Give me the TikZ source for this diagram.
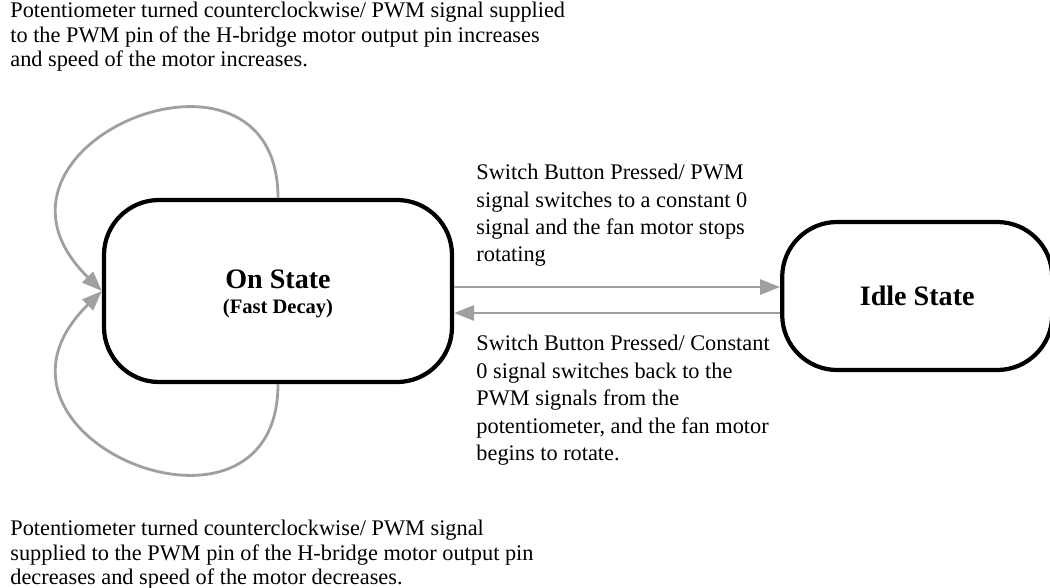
\documentclass[tikz,border=0pt]{standalone}
\usepackage{fontspec}
\setmainfont{Liberation Serif}
\usetikzlibrary{positioning, arrows.meta}
\definecolor{edgegray}{RGB}{160,160,160}

\begin{document}
\begin{tikzpicture}[
    state/.style={draw, line width=2.4pt, rounded corners=1.1cm, align=center,
        font=\bfseries\fontsize{16}{14}\selectfont},
    trans/.style={draw=edgegray, line width=1.6pt, -{Triangle[length=0.4cm,width=0.3cm]}},
    note/.style={inner sep=0pt, align=left, anchor=north west,
        font=\fontsize{12.7}{13.9}\selectfont},
    translabel/.style={inner sep=0pt, align=left, font=\fontsize{12.7}{15.6}\selectfont}
]
\useasboundingbox (0,0) rectangle (21,-11.74);

% states
\node[state, minimum width=6.96cm, minimum height=3.64cm](on) at (5.56,-5.82)
    {\rule{0pt}{14pt}On State\\{\fontsize{11.7}{14}\selectfont (Fast Decay)}};
\node[state, minimum width=5.4cm, minimum height=2.96cm](idle)[right = 6.52cm of on, yshift=-0.1cm]{Idle State};

% transitions between the states
\draw[trans] ([yshift=0.08cm]on.east) -- ([yshift=0.08cm]on.east -| idle.west);
\draw[trans] ([yshift=-0.44cm]on.east -| idle.west) -- ([yshift=-0.44cm]on.east);

\node[translabel](offlabel)[above right = 0.48cm and 0.44cm of on.east]
    {Switch Button Pressed/ PWM\\ signal switches to a constant 0\\ signal and the fan motor stops\\ rotating};
\node[translabel](onlabel)[below right = 0.88cm and 0.44cm of on.east]
    {Switch Button Pressed/ Constant\\ 0 signal switches back to the\\ PWM signals from the\\ potentiometer, and the fan motor\\ begins to rotate.};

% self loops
\draw[trans] (on.north) .. controls +(0,3.7) and +(-2.98,2.92) .. (on.west);
\draw[trans] (on.south) .. controls +(0,-3.7) and +(-2.98,-2.92) .. (on.west);

\node[note](uptext) at (0.2,-0.04)
    {Potentiometer turned counterclockwise/ PWM signal supplied\\ to the PWM pin of the H-bridge motor output pin increases\\ and speed of the motor increases.};
\node[note](downtext) at (0.2,-10.4)
    {Potentiometer turned counterclockwise/ PWM signal\\ supplied to the PWM pin of the H-bridge motor output pin\\ decreases and speed of the motor decreases.};
\end{tikzpicture}
\end{document}
